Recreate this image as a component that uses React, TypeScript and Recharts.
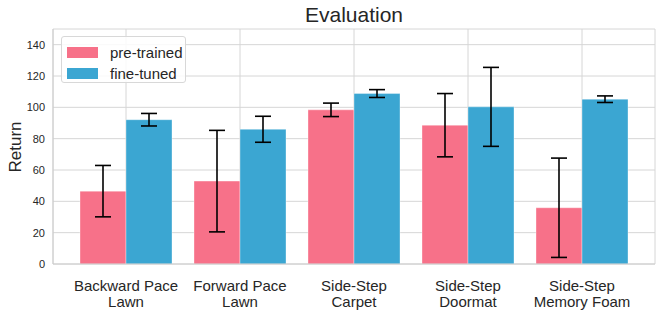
import { BarChart, Bar, XAxis, YAxis, CartesianGrid, ErrorBar } from 'recharts';

const categories = ['Backward Pace\nLawn', 'Forward Pace\nLawn', 'Side-Step\nCarpet', 'Side-Step\nDoormat', 'Side-Step\nMemory Foam'];
const preTrained = [46.5, 52.9, 98.4, 88.6, 35.9];
const preTrainedErr = [16.4, 32.4, 4.3, 20.2, 31.7];
const fineTuned = [92.1, 86.0, 108.8, 100.3, 105.2];
const fineTunedErr = [4.0, 8.3, 2.5, 25.2, 2.1];
const yTicks = [0, 20, 40, 60, 80, 100, 120, 140];

const PINK = '#f77189';
const BLUE = '#3ba6d2';
const FONT = '"Liberation Sans", Arial, sans-serif';
const TEXT = '#262626';

const data = categories.map((name, i) => ({
  name,
  pre: preTrained[i],
  preErr: preTrainedErr[i],
  fine: fineTuned[i],
  fineErr: fineTunedErr[i],
}));

const legendItems = [
  { label: 'pre-trained', color: PINK },
  { label: 'fine-tuned', color: BLUE },
];

function CategoryTick({ x, y, payload }: any) {
  const lines = String(payload.value).split('\n');
  return (
    <text x={x} y={y} textAnchor="middle" fill={TEXT} fontSize={15} fontFamily={FONT}>
      {lines.map((l, i) => (
        <tspan key={i} x={x} dy={i === 0 ? 19 : 16}>{l}</tspan>
      ))}
    </text>
  );
}

function LegendBox() {
  return (
    <div style={{
      position: 'absolute', left: 61, top: 36,
      width: 125, height: 47, border: '1px solid #d8d8d8', borderRadius: 3,
      background: 'rgba(255,255,255,0.85)', boxSizing: 'border-box', padding: '5px 0 0 5px',
    }}>
      {legendItems.map(it => (
        <div key={it.label} style={{ display: 'flex', alignItems: 'center', height: 21 }}>
          <span style={{ display: 'inline-block', width: 31, height: 11, background: it.color }} />
          <span style={{ marginLeft: 12, fontSize: 15, fontFamily: FONT, color: TEXT }}>{it.label}</span>
        </div>
      ))}
    </div>
  );
}

export default function App() {
  return (
    <div style={{ position: 'absolute', left: 0, top: 0, width: 664, height: 310, background: '#fff' }}>
      <BarChart
        width={664}
        height={310}
        data={data}
        margin={{ top: 29, right: 9, left: 0, bottom: 0 }}
        barSize={46}
        barGap={0}
      >
        <CartesianGrid stroke="#d6d6d6" strokeWidth={1} />
        <XAxis
          dataKey="name"
          height={46}
          padding={{ left: 16, right: 16 }}
          tick={<CategoryTick />}
          tickLine={false}
          axisLine={{ stroke: '#cccccc' }}
          interval={0}
        />
        <XAxis
          xAxisId="top"
          dataKey="name"
          orientation="top"
          height={0}
          tick={false}
          tickLine={false}
          axisLine={{ stroke: '#cccccc' }}
        />
        <YAxis
          width={53}
          domain={[0, 150]}
          ticks={yTicks}
          tickLine={false}
          tickSize={0}
          tickMargin={8}
          axisLine={{ stroke: '#cccccc' }}
          tick={{ fill: TEXT, fontSize: 11, fontFamily: FONT }}
        />
        <YAxis
          yAxisId="right"
          orientation="right"
          width={0}
          domain={[0, 150]}
          tick={false}
          tickLine={false}
          axisLine={{ stroke: '#cccccc' }}
        />
        <Bar dataKey="pre" name="pre-trained" fill={PINK} stroke="rgba(255,255,255,0.35)" isAnimationActive={false}>
          <ErrorBar dataKey="preErr" width={8} strokeWidth={1.6} stroke="#000" />
        </Bar>
        <Bar dataKey="fine" name="fine-tuned" fill={BLUE} stroke="rgba(255,255,255,0.35)" isAnimationActive={false}>
          <ErrorBar dataKey="fineErr" width={8} strokeWidth={1.6} stroke="#000" />
        </Bar>
      </BarChart>
      <div style={{
        position: 'absolute', left: 53, width: 602, top: 3, textAlign: 'center',
        fontSize: 21, fontFamily: FONT, color: TEXT,
      }}>Evaluation</div>
      <div style={{ position: 'absolute', left: 16, top: 147, width: 0, height: 0 }}>
        <div style={{
          position: 'absolute', transform: 'translate(-50%, -50%) rotate(-90deg)',
          fontSize: 17, fontFamily: FONT, color: TEXT, whiteSpace: 'nowrap',
        }}>Return</div>
      </div>
      <LegendBox />
    </div>
  );
}
